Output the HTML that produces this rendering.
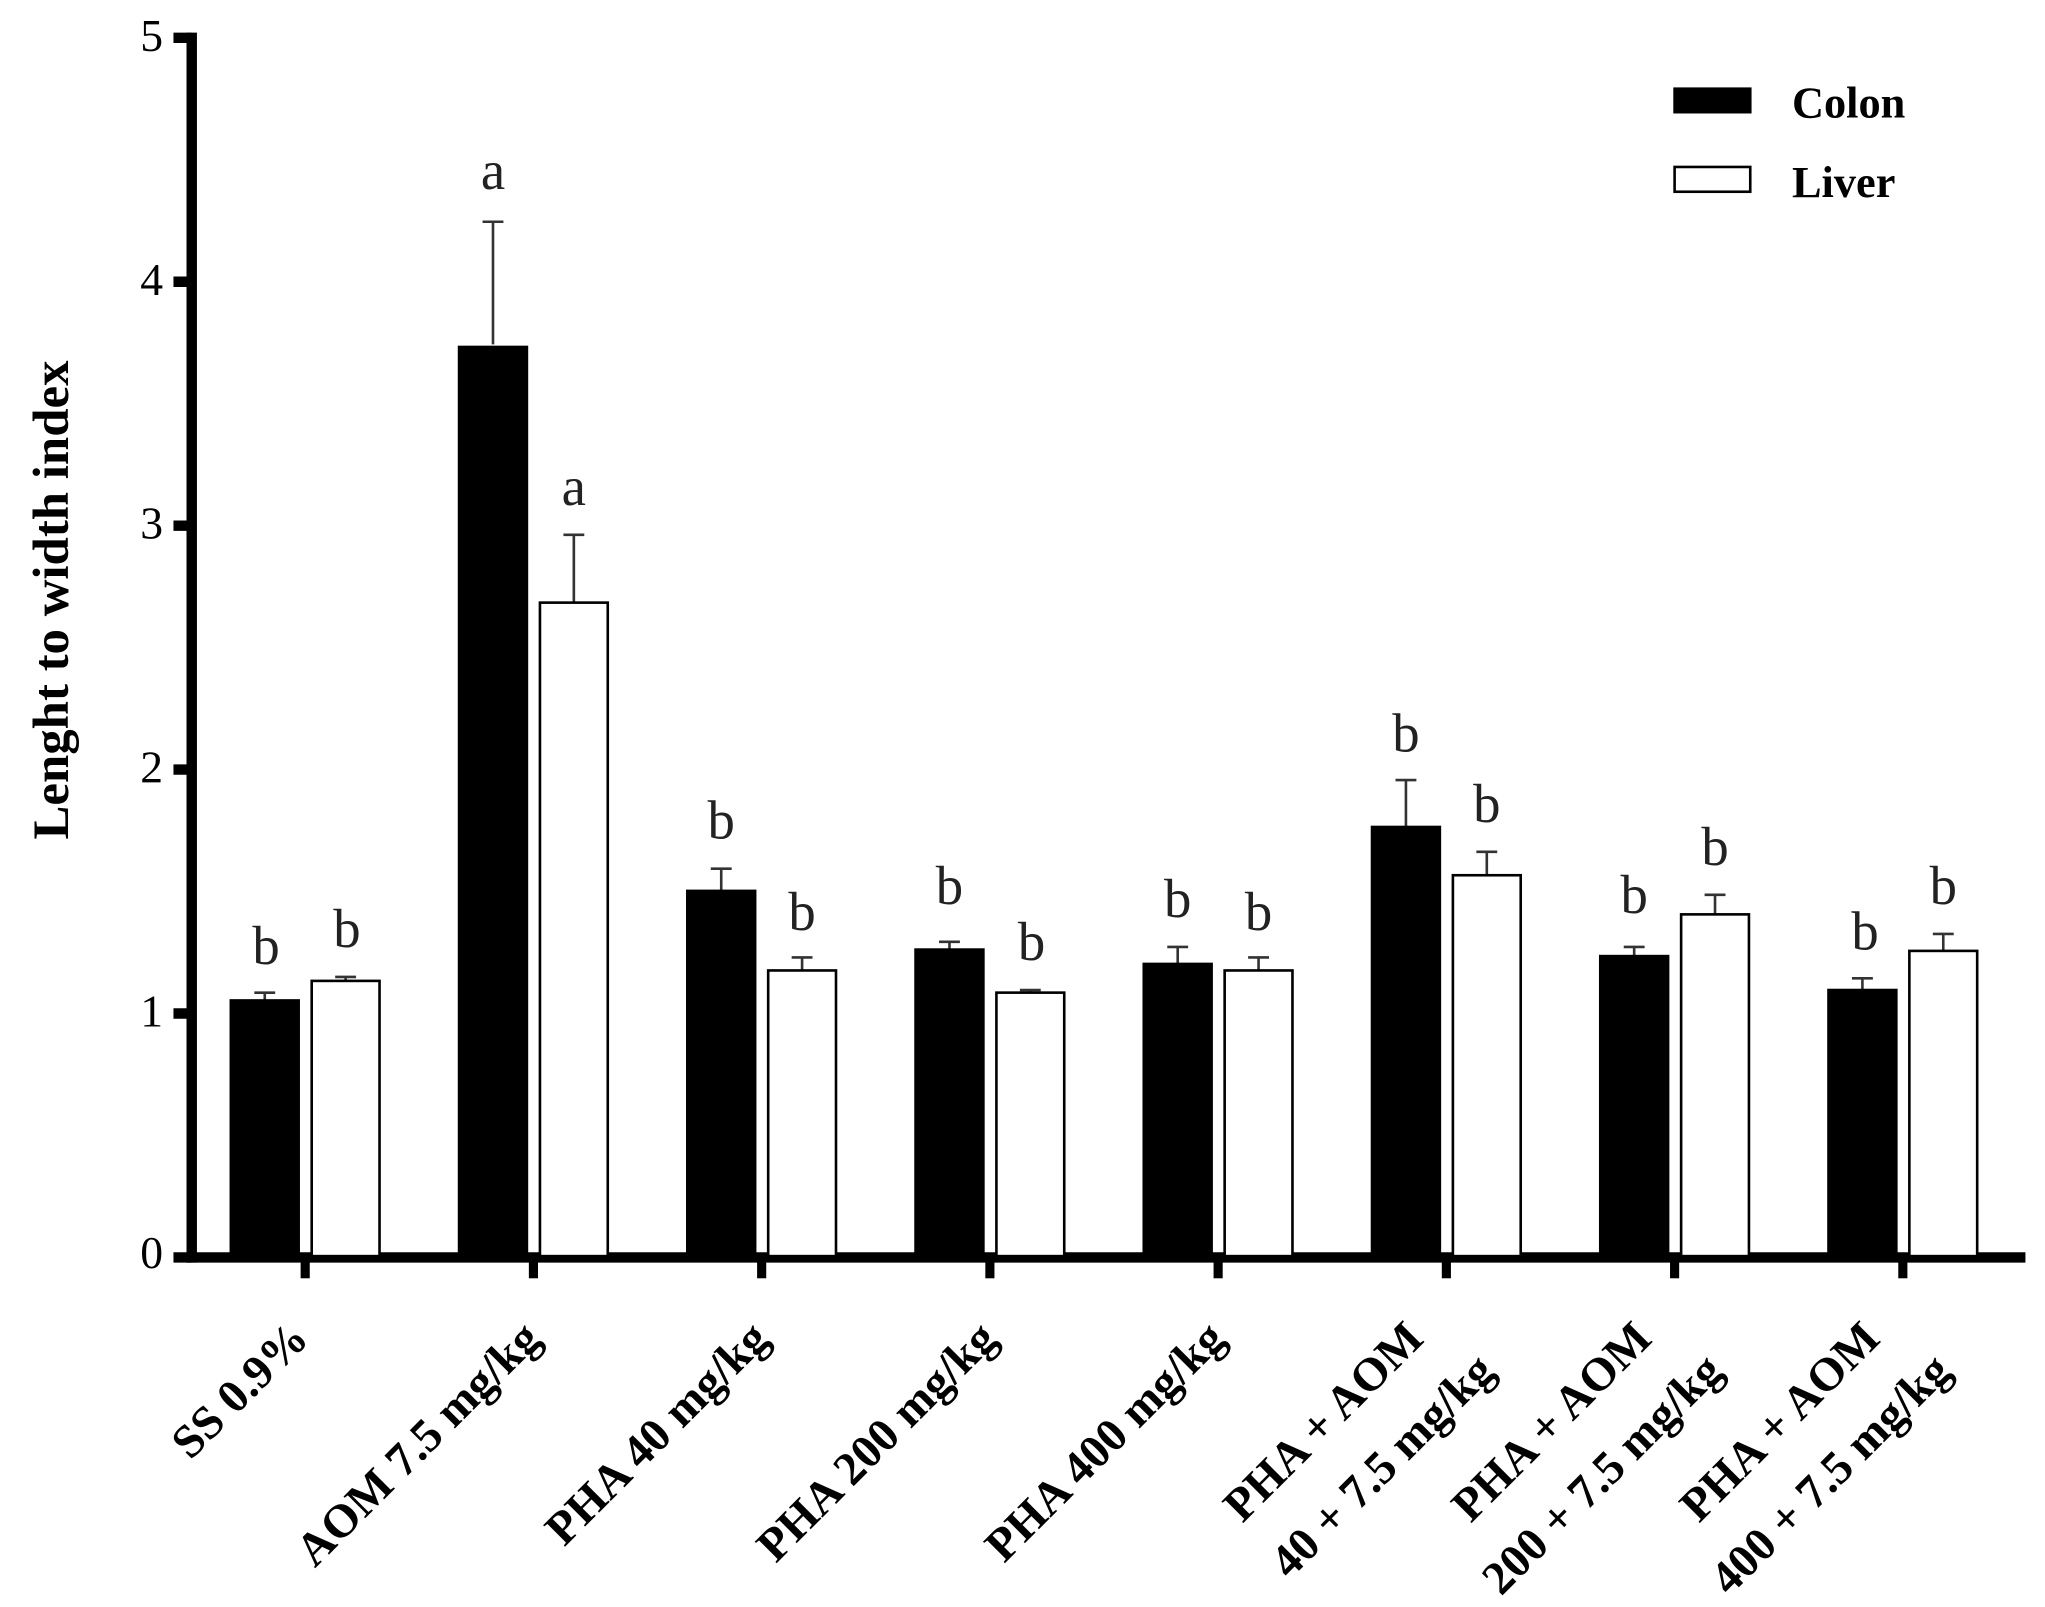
<!DOCTYPE html>
<html><head><style>html,body{margin:0;padding:0;background:#fff}svg{display:block}</style></head>
<body>
<svg width="2045" height="1607" viewBox="0 0 1568 1232" preserveAspectRatio="none" xmlns="http://www.w3.org/2000/svg" font-family="Liberation Serif, serif">
<g stroke="#000" stroke-width="8" fill="none">
<line x1="147" y1="25" x2="147" y2="968"/>
<line x1="143" y1="964" x2="1553" y2="964"/>
<line x1="133" y1="29" x2="147" y2="29"/>
<line x1="133" y1="216" x2="147" y2="216"/>
<line x1="133" y1="403" x2="147" y2="403"/>
<line x1="133" y1="590" x2="147" y2="590"/>
<line x1="133" y1="777" x2="147" y2="777"/>
<line x1="133" y1="964" x2="147" y2="964"/>
<g stroke-width="7">
<line x1="234" y1="964" x2="234" y2="980"/>
<line x1="409" y1="964" x2="409" y2="980"/>
<line x1="584" y1="964" x2="584" y2="980"/>
<line x1="759" y1="964" x2="759" y2="980"/>
<line x1="934" y1="964" x2="934" y2="980"/>
<line x1="1109" y1="964" x2="1109" y2="980"/>
<line x1="1284" y1="964" x2="1284" y2="980"/>
<line x1="1459" y1="964" x2="1459" y2="980"/>
</g>
</g>
<g font-size="35" text-anchor="end">
<text x="125" y="39">5</text><text x="125" y="226">4</text><text x="125" y="413">3</text>
<text x="125" y="600">2</text><text x="125" y="787">1</text><text x="125" y="972">0</text>
</g>
<text transform="translate(52,460) rotate(-90)" text-anchor="middle" font-weight="bold" font-size="39">Lenght to width index</text>
<g fill="none" stroke="#333" stroke-width="2">
<path d="M203 767V761M195 761H211"/><path d="M265 752V749M257 749H273"/>
<path d="M378 264V170M370 170H386"/><path d="M440 462V410M432 410H448"/>
<path d="M553 683V666M545 666H561"/><path d="M615 745V734M607 734H623"/>
<path d="M728 728V722M720 722H736"/><path d="M790 761V759M782 759H798"/>
<path d="M903 739V726M895 726H911"/><path d="M965 745V734M957 734H973"/>
<path d="M1078 634V598M1070 598H1086"/><path d="M1140 671V653M1132 653H1148"/>
<path d="M1253 734V726M1245 726H1261"/><path d="M1315 701V686M1307 686H1323"/>
<path d="M1428 759V750M1420 750H1436"/><path d="M1490 729V716M1482 716H1498"/>
</g>
<g stroke="#000" stroke-width="2">
<rect x="177" y="767" width="52" height="196" fill="#000"/>
<rect x="239" y="752" width="52" height="211" fill="#fff"/>
<rect x="352" y="266" width="52" height="697" fill="#000"/>
<rect x="414" y="462" width="52" height="501" fill="#fff"/>
<rect x="527" y="683" width="52" height="280" fill="#000"/>
<rect x="589" y="744" width="52" height="219" fill="#fff"/>
<rect x="702" y="728" width="52" height="235" fill="#000"/>
<rect x="764" y="761" width="52" height="202" fill="#fff"/>
<rect x="877" y="739" width="52" height="224" fill="#000"/>
<rect x="939" y="744" width="52" height="219" fill="#fff"/>
<rect x="1052" y="634" width="52" height="329" fill="#000"/>
<rect x="1114" y="671" width="52" height="292" fill="#fff"/>
<rect x="1227" y="733" width="52" height="230" fill="#000"/>
<rect x="1289" y="701" width="52" height="262" fill="#fff"/>
<rect x="1402" y="759" width="52" height="204" fill="#000"/>
<rect x="1464" y="729" width="52" height="234" fill="#fff"/>
</g>
<g font-size="42" text-anchor="middle" fill="#222">
<text x="204" y="739">b</text><text x="266" y="726">b</text>
<text x="378" y="145">a</text><text x="440" y="387">a</text>
<text x="553" y="643">b</text><text x="615" y="713">b</text>
<text x="728" y="693">b</text><text x="791" y="736">b</text>
<text x="903" y="703">b</text><text x="965" y="713">b</text>
<text x="1078" y="576">b</text><text x="1140" y="630">b</text>
<text x="1253" y="700">b</text><text x="1315" y="663">b</text>
<text x="1430" y="728">b</text><text x="1490" y="693">b</text>
</g>
<rect x="1284" y="68" width="58" height="18" fill="#000" stroke="#000" stroke-width="2"/>
<rect x="1284" y="128" width="58" height="19" fill="#fff" stroke="#000" stroke-width="2"/>
<g font-weight="bold" font-size="34">
<text x="1374" y="90">Colon</text><text x="1374" y="151">Liver</text>
</g>
<g font-weight="bold" font-size="36" text-anchor="end">
<text transform="translate(238,1028) rotate(-45)">SS 0.9%</text>
<text transform="translate(416,1028) rotate(-45)">AOM 7.5 mg/kg</text>
<text transform="translate(591,1028) rotate(-45)">PHA 40 mg/kg</text>
<text transform="translate(766,1028) rotate(-45)">PHA 200 mg/kg</text>
<text transform="translate(941,1028) rotate(-45)">PHA 400 mg/kg</text>
<text transform="translate(1093,1028) rotate(-45)"><tspan x="0" y="0">PHA + AOM</tspan><tspan x="21" y="56">40 + 7.5 mg/kg</tspan></text>
<text transform="translate(1268,1028) rotate(-45)"><tspan x="0" y="0">PHA + AOM</tspan><tspan x="21" y="56">200 + 7.5 mg/kg</tspan></text>
<text transform="translate(1443,1028) rotate(-45)"><tspan x="0" y="0">PHA + AOM</tspan><tspan x="21" y="56">400 + 7.5 mg/kg</tspan></text>
</g>
</svg>
</body></html>
